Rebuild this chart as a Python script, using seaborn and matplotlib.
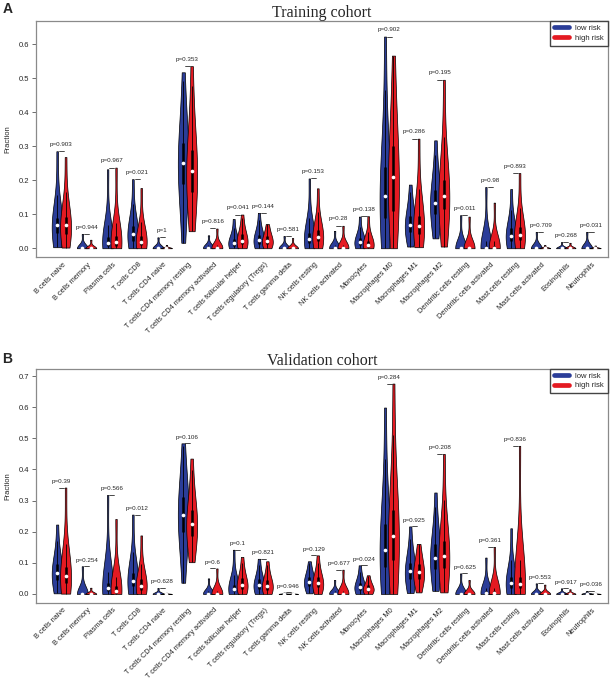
import numpy as np
import pandas as pd
import matplotlib.pyplot as plt
import seaborn as sns
from matplotlib.lines import Line2D

cell_types = ["B cells naive", "B cells memory", "Plasma cells", "T cells CD8",
              "T cells CD4 naive", "T cells CD4 memory resting",
              "T cells CD4 memory activated", "T cells follicular helper",
              "T cells regulatory (Tregs)", "T cells gamma delta", "NK cells resting",
              "NK cells activated", "Monocytes", "Macrophages M0", "Macrophages M1",
              "Macrophages M2", "Dendritic cells resting", "Dendritic cells activated",
              "Mast cells resting", "Mast cells activated", "Eosinophils", "Neutrophils"]

# estimated octiles (min ... max) of each cell fraction
train_low = [
    [0.003, 0.03, 0.045, 0.058, 0.067, 0.077, 0.09, 0.115, 0.285],
    [0, 0, 0, 0, 0, 0, 0, 0.004, 0.042],
    [0, 0.004, 0.008, 0.012, 0.016, 0.022, 0.032, 0.055, 0.232],
    [0, 0.012, 0.022, 0.032, 0.042, 0.052, 0.065, 0.09, 0.203],
    [0, 0, 0, 0, 0, 0, 0, 0.002, 0.032],
    [0.016, 0.15, 0.19, 0.225, 0.25, 0.275, 0.31, 0.36, 0.517],
    [0, 0, 0, 0, 0.001, 0.002, 0.004, 0.008, 0.038],
    [0, 0.004, 0.008, 0.011, 0.015, 0.02, 0.028, 0.045, 0.086],
    [0, 0.007, 0.012, 0.018, 0.024, 0.031, 0.04, 0.058, 0.104],
    [0, 0, 0, 0, 0, 0, 0, 0.002, 0.036],
    [0, 0.01, 0.016, 0.022, 0.027, 0.034, 0.045, 0.07, 0.205],
    [0, 0, 0, 0, 0.001, 0.002, 0.004, 0.01, 0.051],
    [0, 0.005, 0.009, 0.013, 0.017, 0.022, 0.03, 0.045, 0.093],
    [0, 0.06, 0.09, 0.12, 0.153, 0.19, 0.24, 0.33, 0.622],
    [0.005, 0.035, 0.048, 0.058, 0.068, 0.078, 0.095, 0.125, 0.187],
    [0.029, 0.08, 0.1, 0.118, 0.133, 0.15, 0.17, 0.21, 0.317],
    [0, 0, 0, 0, 0, 0.001, 0.003, 0.008, 0.097],
    [0, 0, 0, 0.001, 0.002, 0.004, 0.008, 0.018, 0.18],
    [0, 0.015, 0.022, 0.029, 0.036, 0.045, 0.058, 0.085, 0.174],
    [0, 0, 0, 0, 0, 0, 0, 0.002, 0.048],
    [0, 0, 0, 0, 0, 0, 0, 0.002, 0.018],
    [0, 0, 0, 0, 0, 0, 0, 0.001, 0.048],
]
train_high = [
    [0.002, 0.028, 0.043, 0.056, 0.067, 0.078, 0.092, 0.12, 0.268],
    [0, 0, 0, 0, 0, 0, 0, 0.002, 0.025],
    [0, 0.004, 0.008, 0.012, 0.017, 0.024, 0.035, 0.06, 0.237],
    [0, 0.005, 0.009, 0.014, 0.019, 0.026, 0.036, 0.06, 0.177],
    [0, 0, 0, 0, 0, 0, 0, 0.001, 0.01],
    [0.05, 0.13, 0.165, 0.2, 0.227, 0.255, 0.29, 0.35, 0.535],
    [0, 0, 0, 0, 0.001, 0.002, 0.004, 0.01, 0.058],
    [0, 0.006, 0.011, 0.016, 0.022, 0.03, 0.042, 0.062, 0.099],
    [0, 0.006, 0.011, 0.016, 0.022, 0.028, 0.036, 0.05, 0.071],
    [0, 0, 0, 0, 0, 0, 0, 0.002, 0.03],
    [0, 0.012, 0.02, 0.027, 0.034, 0.042, 0.055, 0.08, 0.176],
    [0, 0, 0, 0, 0.001, 0.002, 0.004, 0.012, 0.066],
    [0, 0.002, 0.004, 0.007, 0.01, 0.014, 0.022, 0.04, 0.094],
    [0, 0.07, 0.11, 0.16, 0.208, 0.25, 0.3, 0.38, 0.566],
    [0.003, 0.03, 0.043, 0.055, 0.066, 0.078, 0.095, 0.135, 0.322],
    [0.005, 0.09, 0.115, 0.135, 0.154, 0.175, 0.2, 0.25, 0.495],
    [0, 0, 0, 0, 0, 0, 0.002, 0.006, 0.093],
    [0, 0, 0, 0.001, 0.002, 0.004, 0.008, 0.02, 0.134],
    [0, 0.016, 0.024, 0.031, 0.039, 0.048, 0.062, 0.09, 0.221],
    [0, 0, 0, 0, 0, 0, 0, 0.001, 0.01],
    [0, 0, 0, 0, 0, 0, 0, 0.002, 0.016],
    [0, 0, 0, 0, 0, 0, 0, 0.001, 0.008],
]
train_p = ["0.903", "0.944", "0.967", "0.021", "1", "0.353", "0.816", "0.041", "0.144",
           "0.581", "0.153", "0.28", "0.138", "0.902", "0.286", "0.195", "0.011", "0.98",
           "0.893", "0.709", "0.268", "0.031"]

valid_low = [
    [0.002, 0.03, 0.045, 0.057, 0.068, 0.08, 0.095, 0.125, 0.223],
    [0, 0, 0, 0, 0, 0, 0, 0.004, 0.089],
    [0, 0.005, 0.009, 0.013, 0.018, 0.024, 0.034, 0.06, 0.318],
    [0, 0.014, 0.024, 0.034, 0.043, 0.053, 0.068, 0.1, 0.255],
    [0, 0, 0, 0, 0, 0, 0, 0.001, 0.019],
    [0.036, 0.16, 0.2, 0.23, 0.254, 0.28, 0.31, 0.36, 0.484],
    [0, 0, 0, 0, 0.001, 0.002, 0.004, 0.008, 0.05],
    [0, 0.005, 0.009, 0.012, 0.016, 0.021, 0.03, 0.055, 0.142],
    [0, 0.01, 0.016, 0.022, 0.029, 0.036, 0.047, 0.068, 0.113],
    [0, 0, 0, 0, 0, 0, 0, 0, 0.005],
    [0.002, 0.018, 0.026, 0.033, 0.039, 0.046, 0.055, 0.072, 0.105],
    [0, 0, 0, 0, 0.001, 0.002, 0.004, 0.008, 0.045],
    [0, 0.008, 0.012, 0.017, 0.021, 0.027, 0.036, 0.055, 0.092],
    [0, 0.05, 0.085, 0.115, 0.142, 0.175, 0.225, 0.31, 0.599],
    [0.003, 0.035, 0.048, 0.06, 0.073, 0.085, 0.1, 0.13, 0.217],
    [0.01, 0.06, 0.08, 0.1, 0.117, 0.135, 0.16, 0.2, 0.326],
    [0, 0, 0, 0, 0, 0.001, 0.002, 0.006, 0.066],
    [0, 0, 0, 0.001, 0.002, 0.004, 0.008, 0.02, 0.117],
    [0, 0.012, 0.019, 0.027, 0.034, 0.042, 0.055, 0.085, 0.211],
    [0, 0, 0, 0, 0, 0, 0, 0.002, 0.034],
    [0, 0, 0, 0, 0, 0, 0, 0.002, 0.018],
    [0, 0, 0, 0, 0, 0, 0, 0.001, 0.01],
]
valid_high = [
    [0.001, 0.022, 0.035, 0.046, 0.057, 0.068, 0.085, 0.12, 0.342],
    [0, 0, 0, 0, 0, 0, 0, 0.002, 0.02],
    [0, 0.002, 0.004, 0.007, 0.01, 0.015, 0.024, 0.05, 0.241],
    [0, 0.008, 0.014, 0.02, 0.027, 0.035, 0.047, 0.075, 0.188],
    [0, 0, 0, 0, 0, 0, 0, 0, 0.004],
    [0.102, 0.165, 0.185, 0.205, 0.225, 0.245, 0.27, 0.31, 0.435],
    [0, 0, 0, 0, 0.001, 0.002, 0.004, 0.01, 0.082],
    [0, 0.009, 0.016, 0.022, 0.029, 0.037, 0.05, 0.075, 0.119],
    [0, 0.008, 0.014, 0.02, 0.026, 0.033, 0.045, 0.065, 0.105],
    [0, 0, 0, 0, 0, 0, 0, 0, 0.004],
    [0, 0.014, 0.021, 0.028, 0.034, 0.042, 0.053, 0.075, 0.124],
    [0, 0, 0, 0, 0.001, 0.002, 0.004, 0.01, 0.078],
    [0, 0.006, 0.009, 0.013, 0.016, 0.021, 0.028, 0.04, 0.06],
    [0, 0.07, 0.11, 0.15, 0.185, 0.22, 0.27, 0.36, 0.676],
    [0.005, 0.035, 0.047, 0.058, 0.069, 0.08, 0.095, 0.12, 0.161],
    [0.005, 0.06, 0.082, 0.103, 0.123, 0.145, 0.17, 0.22, 0.45],
    [0, 0, 0, 0, 0, 0, 0.002, 0.005, 0.045],
    [0, 0, 0, 0.001, 0.002, 0.004, 0.008, 0.022, 0.151],
    [0, 0.011, 0.018, 0.025, 0.032, 0.04, 0.054, 0.09, 0.476],
    [0, 0, 0, 0, 0, 0, 0, 0.002, 0.03],
    [0, 0, 0, 0, 0, 0, 0, 0.001, 0.015],
    [0, 0, 0, 0, 0, 0, 0, 0, 0.004],
]
valid_p = ["0.39", "0.254", "0.566", "0.012", "0.628", "0.106", "0.6", "0.1", "0.821",
           "0.946", "0.129", "0.677", "0.024", "0.284", "0.925", "0.208", "0.625", "0.361",
           "0.836", "0.553", "0.917", "0.036"]

groups = ["low risk", "high risk"]
colors = {"low risk": "#2b3d98", "high risk": "#e41a22"}

sns.set_style("white")
plt.rcParams["font.family"] = ["Liberation Sans", "DejaVu Sans"]


def draw_panel(ax, low, high, pvals, title):
    rows = []
    for i in range(len(cell_types)):
        for off, (g, vals) in enumerate(zip(groups, (low[i], high[i]))):
            for v in vals:
                rows.append((3 * i + off, g, v))
    df = pd.DataFrame(rows, columns=["pos", "group", "fraction"])

    sns.violinplot(data=df, x="pos", y="fraction", hue="group", hue_order=groups,
                   palette=colors, native_scale=True, dodge=False, cut=0,
                   density_norm="width", width=1.3, inner=None, linewidth=0.5,
                   linecolor="black", saturation=1, bw_adjust=1.25, legend=False, ax=ax)

    # mini box plot inside each violin (vioplot style)
    for (pos, g), sub in df.groupby(["pos", "group"]):
        v = sub["fraction"].to_numpy()
        q1, med, q3 = np.percentile(v, [25, 50, 75])
        iqr = q3 - q1
        lo = max(v.min(), q1 - 1.5 * iqr)
        hi = min(v.max(), q3 + 1.5 * iqr)
        ax.vlines(pos, lo, hi, color="black", lw=0.6, zorder=3)
        ax.vlines(pos, q1, q3, color="black", lw=1.8, zorder=3)
        ax.scatter([pos], [med], s=7, color="white", zorder=4, linewidths=0)

    # p-values
    for i, p in enumerate(pvals):
        mx = max(low[i] + high[i])
        ax.plot([3 * i + 0.2, 3 * i + 0.8], [mx, mx], color="black", lw=0.5)
        ax.text(3 * i + 0.5, mx + 0.02, "p=" + p, ha="center", va="center", fontsize=4.5)

    top = df["fraction"].max() + 0.02
    ax.set_ylim(-0.04 * top, top * 1.04)
    ax.set_xlim(-0.04 * 63, 63 * 1.04)
    ax.set_yticks(np.arange(0, top * 1.04, 0.1))
    ax.yaxis.set_major_formatter(plt.FormatStrFormatter("%.1f"))
    ax.tick_params(axis="y", labelsize=5.5, length=3, width=0.6, color="#555555", pad=2, left=True)
    ax.set_xticks([3 * i + 0.6 for i in range(len(cell_types))])
    ax.set_xticklabels(cell_types, rotation=45, ha="right", rotation_mode="anchor", fontsize=5.3)
    ax.tick_params(axis="x", length=0, pad=3)
    ax.set_xlabel("")
    ax.set_ylabel("Fraction", fontsize=5.5, labelpad=5)
    for s in ax.spines.values():
        s.set_color("#8a8a8a")
        s.set_linewidth(0.9)
    ax.set_title(title, fontfamily="Liberation Serif", fontsize=11.5, pad=3)

    handles = [Line2D([0], [0], color=colors[g], lw=3.4, solid_capstyle="round") for g in groups]
    ax.legend(handles, groups, loc="upper right", fontsize=5.5, handlelength=2.0,
              frameon=True, fancybox=False, edgecolor="#444444", framealpha=1,
              borderaxespad=0, borderpad=0.5, labelspacing=0.3, handletextpad=0.8)


fig = plt.figure(figsize=(6.13, 6.82), dpi=100)
ax1 = fig.add_axes([0.0587, 0.6232, 0.9331, 0.346])
ax2 = fig.add_axes([0.0587, 0.1164, 0.9331, 0.343])

draw_panel(ax1, train_low, train_high, train_p, "Training cohort")
draw_panel(ax2, valid_low, valid_high, valid_p, "Validation cohort")

fig.text(0.004, 0.997, "A", fontsize=10, fontweight="bold", va="top", ha="left")
fig.text(0.004, 0.484, "B", fontsize=10, fontweight="bold", va="top", ha="left")

fig.savefig("out.png", dpi=100)
